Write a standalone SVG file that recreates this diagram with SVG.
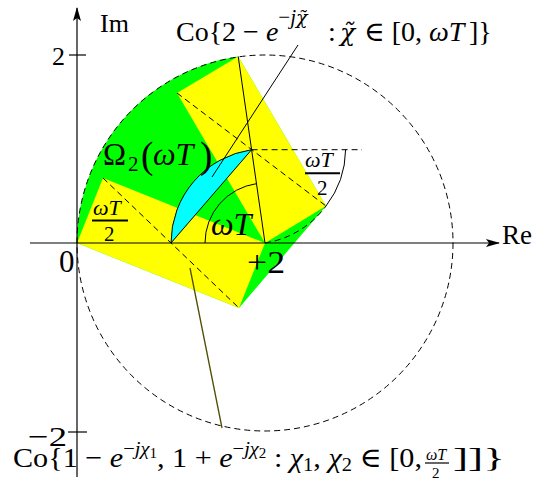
<svg xmlns="http://www.w3.org/2000/svg" width="556" height="486" viewBox="0 0 556 486">
<style>
text { font-family: "Liberation Serif", "DejaVu Serif", serif; fill: #000; }
.it { font-style: italic; }
.dv { font-family: "DejaVu Serif", serif; font-style: italic; }
.dash { fill: none; stroke: #000; stroke-width: 1; stroke-dasharray: 6 4; }
.thin { fill: none; stroke: #000; stroke-width: 1; }
.axis { fill: none; stroke: #000; stroke-width: 1.2; }
</style>
<defs>
<marker id="arr" viewBox="0 0 14 8" refX="13" refY="4" markerWidth="14" markerHeight="8" markerUnits="userSpaceOnUse" orient="auto">
<path d="M0,0 L14,4 L0,8 L3,4 Z" fill="#000"/>
</marker>
</defs>
<rect width="556" height="486" fill="#fff"/>
<g id="regions">
<path id="hull" fill="#00ff00" d="M77,243 A188,188 0 0 1 238.2,56.5 L326,206 L239,308 Z"/>
<polygon id="rect-lower" fill="#ffff00" points="77,243 103,178 265,243 239,308"/>
<polygon id="rect-upper" fill="#ffff00" points="265,243 177,93 238.2,56.5 326,206"/>
<path id="lens" fill="#00ffff" stroke="#000" stroke-width="1" d="M171,243 A94.2,94.2 0 0 1 251.6,149.7 Z"/>
</g>
<g id="connectors">
<circle class="dash" cx="265" cy="243" r="188"/>
<line class="dash" x1="103" y1="178" x2="239" y2="308"/>
<line class="dash" x1="177" y1="93" x2="326" y2="206"/>
<line class="dash" x1="251.6" y1="149.7" x2="362" y2="149.7"/>
<path class="dash" d="M265,243 A94,94 0 0 0 326,206"/>
<line class="thin" x1="265" y1="243" x2="238.2" y2="56.5"/>
<path class="thin" d="M205,243 A60,60 0 0 1 256.8,183.6"/>
<path class="thin" d="M345.6,149.7 A94,94 0 0 1 326,206"/>
<line class="thin" x1="298" y1="45" x2="212" y2="177"/>
<line x1="190" y1="268" x2="222" y2="428" stroke="#4d4d00" stroke-width="1.3"/>
</g>
<g id="axes">
<line class="axis" x1="30" y1="243" x2="499" y2="243" marker-end="url(#arr)"/>
<line class="axis" x1="77" y1="477" x2="77" y2="8" marker-end="url(#arr)"/>
<line class="axis" x1="69" y1="55" x2="86" y2="55"/>
<line class="axis" x1="68" y1="432" x2="87" y2="432"/>
<text x="100" y="32" font-size="26">Im</text>
<text x="502" y="244" font-size="27">Re</text>
<text x="52" y="65" font-size="26">2</text>
<text x="59" y="272" font-size="31">0</text>
<text x="247" y="273" font-size="31" textLength="38" lengthAdjust="spacingAndGlyphs">+2</text>
<text x="28" y="446" font-size="28" textLength="39" lengthAdjust="spacingAndGlyphs">−2</text>
</g>
<g id="label-top">
<text y="41" font-size="28"><tspan x="176">Co{2 − </tspan><tspan class="it">e</tspan><tspan dy="-17" font-size="21">−<tspan class="it">j</tspan><tspan class="dv" font-size="19">χ̃</tspan></tspan><tspan x="328" y="41">:</tspan><tspan x="340" class="dv" font-size="25">χ̃</tspan><tspan x="364" font-size="28">∈ [0, </tspan><tspan class="it">ωT</tspan><tspan x="469">]}</tspan></text>
</g>
<g id="label-omega2">
<text y="165"><tspan x="103" font-size="31">Ω</tspan><tspan x="128" y="171" font-size="21">2</tspan><tspan x="141" y="168" font-size="37">(</tspan><tspan x="153" y="165" font-size="32" class="it">ωT</tspan><tspan x="200" y="168" font-size="37">)</tspan></text>
</g>
<g id="label-angle">
<text class="it" x="211" y="235" font-size="32">ωT</text>
</g>
<g id="label-half-left">
<text class="it" x="93" y="215" font-size="22">ωT</text>
<line x1="92" y1="220.5" x2="128" y2="220.5" stroke="#000" stroke-width="2"/>
<text x="104" y="241" font-size="21">2</text>
</g>
<g id="label-half-right">
<text class="it" x="305" y="167" font-size="22">ωT</text>
<line x1="305" y1="173.3" x2="340" y2="173.3" stroke="#000" stroke-width="2"/>
<text x="317" y="195" font-size="21">2</text>
</g>
<g id="label-bottom">
<text x="13" y="467" font-size="28" textLength="409" lengthAdjust="spacingAndGlyphs">Co{1 − <tspan class="it">e</tspan><tspan dy="-12" font-size="19">−<tspan class="it">jχ</tspan><tspan font-size="14" dy="3">1</tspan></tspan><tspan dy="9">, 1 + </tspan><tspan class="it">e</tspan><tspan dy="-12" font-size="19">−<tspan class="it">jχ</tspan><tspan font-size="14" dy="3">2</tspan></tspan><tspan dy="9"> : </tspan><tspan class="it">χ</tspan><tspan font-size="19" dy="4">1</tspan><tspan dy="-4">, </tspan><tspan class="it">χ</tspan><tspan font-size="19" dy="4">2</tspan><tspan dy="-4"> ∈ [0,</tspan></text>
<text class="it" x="426" y="460" font-size="16">ωT</text>
<line x1="425" y1="463" x2="449" y2="463" stroke="#000" stroke-width="1.2"/>
<text x="432" y="478" font-size="15">2</text>
<text x="453" y="467" font-size="28" textLength="52" lengthAdjust="spacingAndGlyphs">]]}</text>
</g>
</svg>
